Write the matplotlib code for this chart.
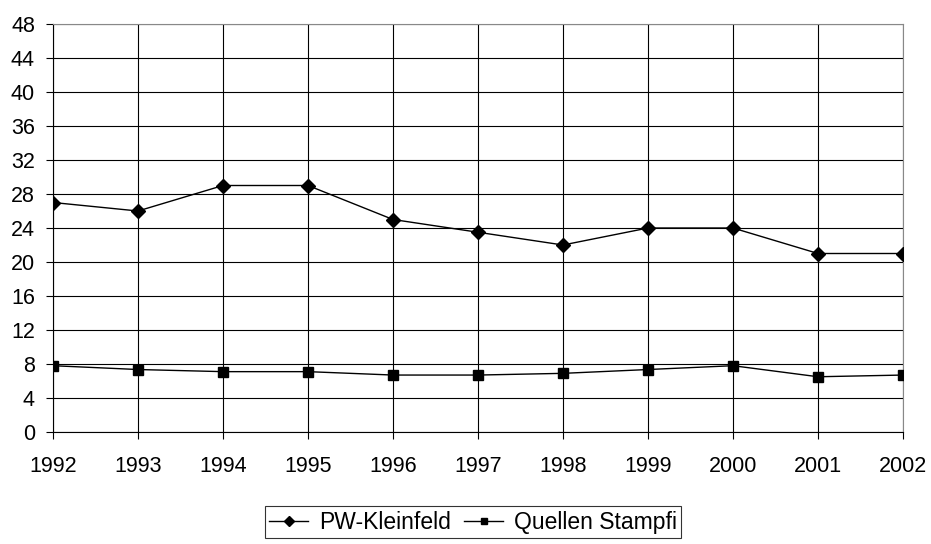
import matplotlib
matplotlib.use("Agg")
import matplotlib.pyplot as plt

years = [1992, 1993, 1994, 1995, 1996, 1997, 1998, 1999, 2000, 2001, 2002]
pw_kleinfeld = [27, 26, 29, 29, 25, 23.5, 22, 24, 24, 21, 21]
quellen_stampfi = [7.8, 7.35, 7.1, 7.1, 6.7, 6.7, 6.9, 7.35, 7.8, 6.5, 6.7]
yticks = list(range(0, 49, 4))

plt.rcParams['font.family'] = ['Liberation Sans', 'DejaVu Sans']

fig = plt.figure(figsize=(9.31, 5.44), dpi=100)
W, H = 931, 544
L, R, T, B = 53, 903, 24, 432
ax = fig.add_axes([L / W, (H - B) / H, (R - L) / W, (B - T) / H])

ax.plot(years, pw_kleinfeld, color='black', lw=1, marker='D', markersize=7,
        label='PW-Kleinfeld', zorder=3)
ax.plot(years, quellen_stampfi, color='black', lw=1, marker='s', markersize=6.5,
        label='Quellen Stampfi', zorder=3)

ax.set_xlim(years[0], years[-1])
ax.set_ylim(0, 48)
ax.set_xticks(years)
ax.set_xticklabels([str(y) for y in years])
ax.set_yticks(yticks)
ax.grid(True, color='black', lw=0.8)
ax.set_axisbelow(True)
ax.spines['top'].set_color('#888888')
ax.spines['right'].set_color('#888888')
ax.spines['left'].set_color('black')
ax.spines['bottom'].set_color('black')
ax.tick_params(axis='both', labelsize=15.5, direction='out', length=5, width=0.8, colors='black')
ax.tick_params(axis='x', pad=12)
ax.tick_params(axis='y', pad=8)

leg = fig.legend(loc='upper center', bbox_to_anchor=(473 / W, 1 - 506 / H), ncol=2,
                 frameon=True, fancybox=False, edgecolor='black', fontsize=16.5,
                 handlelength=1.7, handletextpad=0.45, columnspacing=0.6,
                 borderpad=0.2, borderaxespad=0, markerscale=0.7)
leg.get_frame().set_linewidth(0.8)

fig.savefig('out.png', dpi=100)
